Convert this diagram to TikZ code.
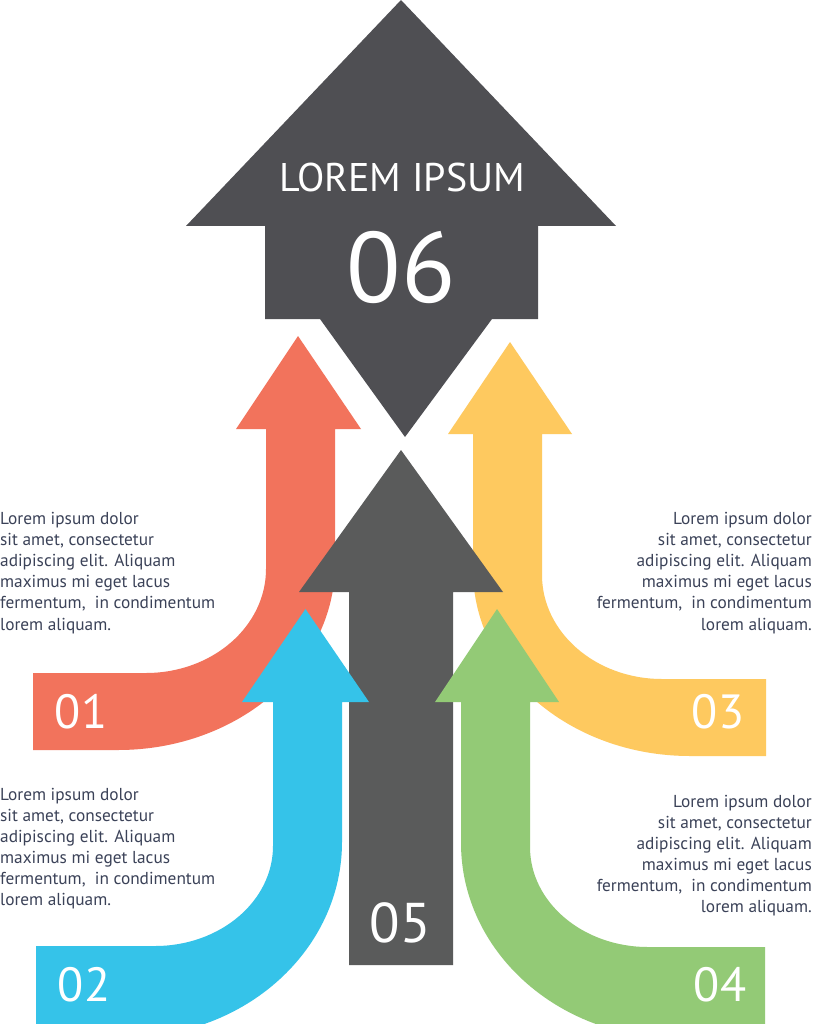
\documentclass[tikz,border=0pt]{standalone}
\usepackage{fontspec}
\setmainfont{PT Sans}
\definecolor{cTop}{HTML}{4F4F53}
\definecolor{cMid}{HTML}{5A5B5B}
\definecolor{cOrange}{HTML}{F2735C}
\definecolor{cYellow}{HTML}{FEC95F}
\definecolor{cBlue}{HTML}{35C3E9}
\definecolor{cGreen}{HTML}{93CA76}
\definecolor{cText}{HTML}{3B4258}
\begin{document}
\begin{tikzpicture}[x=1pt,y=-1pt,
  bodytxt/.style={inner sep=0pt, text=cText, font=\fontsize{17.3}{20}\selectfont},
  numtxt/.style={inner sep=0pt, text=white, font=\fontsize{48}{48}\selectfont}]
\clip (0,0) rectangle (812,1024);
\fill[white] (0,0) rectangle (812,1024);

% 01 orange
\fill[cOrange] (33,673) -- (146,673)
  .. controls (212.3,673) and (266,626.4) .. (266,569)
  -- (266,429) -- (236,429) -- (298,336) -- (361,429) -- (335,429) -- (335,564)
  .. controls (335,666.7) and (237.8,750) .. (118,750)
  -- (33,750) -- cycle;
% 03 yellow
\fill[cYellow] (766,679) -- (662,679)
  .. controls (595.7,679) and (542,632.4) .. (542,575)
  -- (542,434) -- (572,434) -- (510,342) -- (448,434) -- (473,434) -- (473,570)
  .. controls (473,672.7) and (570.2,756) .. (690,756)
  -- (766,756) -- cycle;
% 05 grey
\fill[cMid] (349,965) -- (349,592) -- (299,592) -- (401,450) -- (503,592)
  -- (453,592) -- (453,965) -- cycle;
% 02 blue
\fill[cBlue] (36,946) -- (155,946)
  .. controls (220.2,946) and (273,901.2) .. (273,846)
  -- (273,702) -- (242,702) -- (305.5,609) -- (369,702) -- (342,702) -- (342,842)
  .. controls (342,949.7) and (245.7,1037) .. (127,1037)
  -- (36,1037) -- cycle;
% 04 green
\fill[cGreen] (765,947) -- (648,947)
  .. controls (582.8,947) and (530,902.2) .. (530,847)
  -- (530,702) -- (559,702) -- (497,609) -- (435,702) -- (461,702) -- (461,843)
  .. controls (461,950.7) and (557.3,1038) .. (676,1038)
  -- (765,1038) -- cycle;
% 06 top
\fill[cTop] (265,319) -- (265,226) -- (186,226) -- (401,0) -- (616,226)
  -- (538,226) -- (538,319) -- (492,319) -- (405,437) -- (320,319) -- cycle;

% labels
\node[inner sep=0pt, text=white, font=\fontsize{40}{40}\selectfont] (title) at (402,177.5) {LOREM IPSUM};
\node[inner sep=0pt, text=white, font=\fontsize{100}{100}\selectfont] (n06) at (401,267) {06};
\node[numtxt] (n01) at (81,712) {01};
\node[numtxt] (n03) at (718,712) {03};
\node[numtxt] (n02) at (84,985) {02};
\node[numtxt] (n04) at (720,985) {04};
\node[numtxt, font=\fontsize{56}{56}\selectfont] (n05) at (400,923) {05};

% text blocks
\foreach \t [count=\i from 0] in {Lorem ipsum dolor, {sit amet, consectetur}, adipiscing elit. Aliquam, maximus mi eget lacus, {fermentum,\ \ in condimentum}, lorem aliquam.}{
  \node[bodytxt, anchor=base west] (ta\i) at (0,{524+21.2*\i}) {\t};
  \node[bodytxt, anchor=base east] (tc\i) at (812,{524+21.2*\i}) {\t};
  \node[bodytxt, anchor=base west] (tb\i) at (0,{800+21*\i}) {\t};
  \node[bodytxt, anchor=base east] (td\i) at (812,{807+21*\i}) {\t};
}
\end{tikzpicture}
\end{document}
